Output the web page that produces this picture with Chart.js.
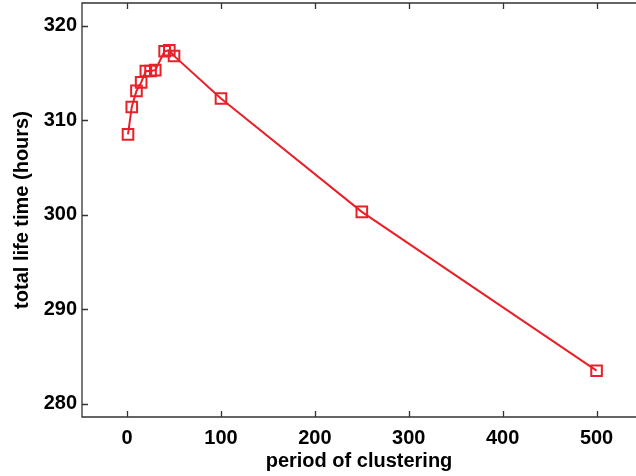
<!DOCTYPE html>
<html>
<head>
<meta charset="utf-8">
<script src="https://cdn.jsdelivr.net/npm/chart.js@4/dist/chart.umd.min.js"></script>
<style>
  html, body { margin: 0; padding: 0; background: #fff; }
  #wrap { width: 636px; height: 476px; }
</style>
</head>
<body>
<div id="wrap"><canvas id="c"></canvas></div>
<script>
// period of clustering vs total life time
const periods = [1, 5, 10, 15, 20, 25, 30, 40, 45, 50, 100, 250, 500];
const lifeHours = [308.5, 311.4, 313.1, 314.0, 315.2, 315.2, 315.3, 317.3, 317.4, 316.8, 312.3, 300.3, 283.5];
const xTicks = [0, 100, 200, 300, 400, 500];
const yTicks = [280, 290, 300, 310, 320];

const RED = 'rgb(232,32,40)';
const FONT = { family: '"Liberation Sans", Arial, sans-serif', size: 20, weight: 'bold' };

// cadre (gauche, haut, bas) + graduations vers l'intérieur (style matlab)
const boxTicks = {
  id: 'boxTicks',
  afterDraw(chart) {
    const { ctx, chartArea: a, scales } = chart;
    ctx.save();
    ctx.strokeStyle = '#333';
    ctx.lineWidth = 1.3;
    ctx.beginPath();
    ctx.moveTo(a.right, a.top); ctx.lineTo(a.left, a.top);
    ctx.lineTo(a.left, a.bottom); ctx.lineTo(a.right, a.bottom);
    xTicks.forEach(v => {
      const px = Math.round(scales.x.getPixelForValue(v)) + 0.5;
      ctx.moveTo(px, a.bottom); ctx.lineTo(px, a.bottom - 6);
      ctx.moveTo(px, a.top); ctx.lineTo(px, a.top + 6);
    });
    yTicks.forEach(v => {
      const py = Math.round(scales.y.getPixelForValue(v)) + 0.5;
      ctx.moveTo(a.left, py); ctx.lineTo(a.left + 6, py);
    });
    ctx.stroke();
    ctx.restore();
  }
};

function noPad(s) {
  s.paddingLeft = s.paddingRight = s.paddingTop = s.paddingBottom = 0;
}

new Chart(document.getElementById('c'), {
  type: 'line',
  data: {
    datasets: [{
      data: periods.map((p, i) => ({ x: p, y: lifeHours[i] })),
      borderColor: RED,
      borderWidth: 2,
      backgroundColor: 'rgba(0,0,0,0)',
      pointStyle: 'rect',
      pointRadius: 7.5,
      pointBorderWidth: 2,
      pointBorderColor: RED,
      pointBackgroundColor: 'rgba(0,0,0,0)',
      tension: 0
    }]
  },
  options: {
    responsive: true, maintainAspectRatio: false, animation: false,
    layout: { autoPadding: false, padding: { top: 3, right: 0, left: 0, bottom: 0 } },
    plugins: { legend: { display: false }, tooltip: { enabled: false } },
    scales: {
      x: {
        type: 'linear', min: -48, max: 542,
        afterBuildTicks: s => { s.ticks = xTicks.map(v => ({ value: v })); },
        afterFit: s => { noPad(s); s.height = 59; },
        grid: { display: false, drawTicks: false },
        border: { display: false },
        ticks: { color: '#000', font: FONT, padding: 9, maxRotation: 0 },
        title: { display: true, text: 'period of clustering', color: '#000', font: FONT, padding: { top: 0, bottom: 3 } }
      },
      y: {
        min: 278.6, max: 322.4,
        afterBuildTicks: s => { s.ticks = yTicks.map(v => ({ value: v })); },
        afterFit: s => { noPad(s); s.width = 82; },
        grid: { display: false, drawTicks: false },
        border: { display: false },
        ticks: { color: '#000', font: FONT, padding: 5 },
        title: { display: true, text: 'total life time (hours)', color: '#000', font: FONT, padding: { top: 10, bottom: 0 } }
      }
    }
  },
  plugins: [boxTicks]
});
</script>
</body>
</html>
